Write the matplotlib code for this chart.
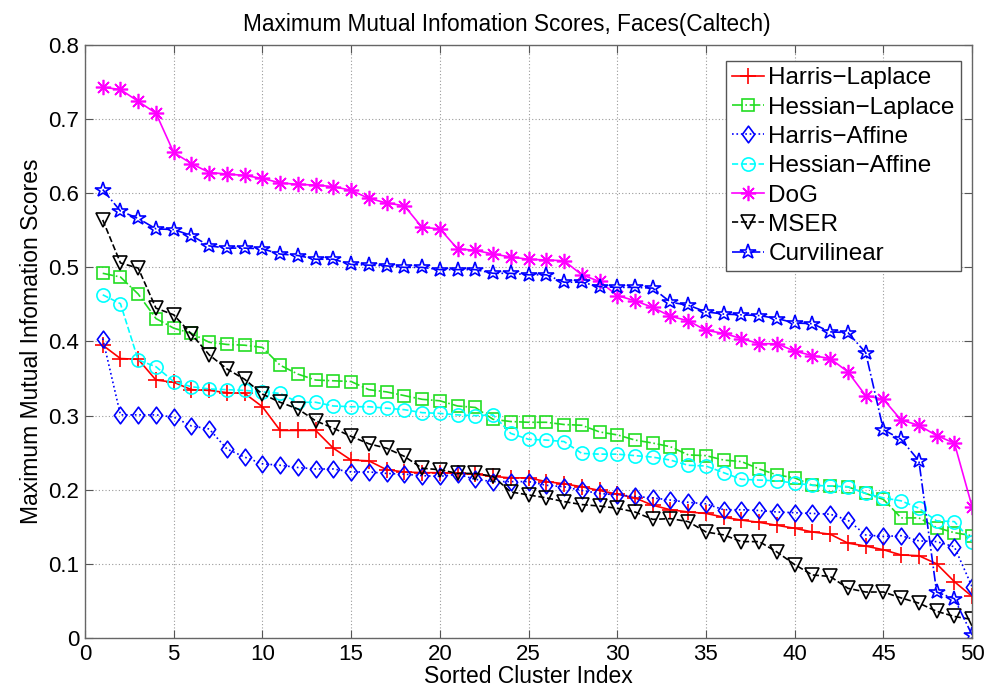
import numpy as np
import matplotlib
matplotlib.use("Agg")
import matplotlib.pyplot as plt
from matplotlib.path import Path

plt.rcParams['font.family'] = ['Liberation Sans', 'DejaVu Sans']

cluster_index = list(range(1, 51))

harris_laplace = [0.395, 0.377, 0.376, 0.348, 0.345, 0.335, 0.334, 0.331, 0.330, 0.312,
                  0.280, 0.280, 0.280, 0.256, 0.240, 0.239, 0.227, 0.224, 0.223, 0.223,
                  0.222, 0.221, 0.218, 0.216, 0.216, 0.211, 0.208, 0.204, 0.199, 0.194,
                  0.189, 0.179, 0.173, 0.170, 0.168, 0.163, 0.159, 0.156, 0.152, 0.148,
                  0.143, 0.140, 0.128, 0.124, 0.119, 0.112, 0.111, 0.100, 0.076, 0.056]

hessian_laplace = [0.492, 0.487, 0.464, 0.431, 0.418, 0.411, 0.399, 0.396, 0.395, 0.392,
                   0.368, 0.356, 0.348, 0.347, 0.346, 0.335, 0.332, 0.327, 0.322, 0.320,
                   0.313, 0.311, 0.295, 0.292, 0.291, 0.291, 0.288, 0.287, 0.278, 0.274,
                   0.267, 0.263, 0.258, 0.247, 0.246, 0.240, 0.238, 0.228, 0.220, 0.216,
                   0.206, 0.205, 0.204, 0.195, 0.187, 0.162, 0.162, 0.149, 0.142, 0.138]

harris_affine = [0.404, 0.301, 0.301, 0.301, 0.298, 0.286, 0.282, 0.255, 0.244, 0.235,
                 0.233, 0.230, 0.228, 0.228, 0.224, 0.224, 0.222, 0.221, 0.219, 0.218,
                 0.221, 0.214, 0.211, 0.211, 0.211, 0.206, 0.204, 0.199, 0.195, 0.193,
                 0.191, 0.189, 0.186, 0.183, 0.181, 0.173, 0.173, 0.172, 0.170, 0.169,
                 0.168, 0.167, 0.159, 0.139, 0.137, 0.138, 0.131, 0.130, 0.123, 0.069]

hessian_affine = [0.463, 0.451, 0.375, 0.366, 0.346, 0.339, 0.336, 0.335, 0.334, 0.332,
                  0.330, 0.318, 0.318, 0.313, 0.312, 0.312, 0.310, 0.308, 0.304, 0.303,
                  0.301, 0.300, 0.301, 0.276, 0.268, 0.267, 0.265, 0.249, 0.248, 0.248,
                  0.246, 0.244, 0.240, 0.233, 0.232, 0.223, 0.214, 0.213, 0.212, 0.209,
                  0.206, 0.205, 0.204, 0.195, 0.189, 0.185, 0.175, 0.158, 0.157, 0.130]

dog = [0.743, 0.740, 0.724, 0.708, 0.655, 0.640, 0.628, 0.626, 0.624, 0.620,
       0.614, 0.612, 0.611, 0.609, 0.604, 0.593, 0.587, 0.583, 0.554, 0.552,
       0.525, 0.523, 0.518, 0.514, 0.511, 0.510, 0.509, 0.490, 0.481, 0.462,
       0.455, 0.446, 0.434, 0.428, 0.415, 0.411, 0.404, 0.397, 0.397, 0.387,
       0.381, 0.377, 0.359, 0.327, 0.322, 0.294, 0.287, 0.273, 0.263, 0.177]

mser = [0.564, 0.506, 0.499, 0.445, 0.436, 0.410, 0.382, 0.363, 0.349, 0.329,
        0.318, 0.309, 0.293, 0.283, 0.272, 0.262, 0.256, 0.245, 0.229, 0.227,
        0.222, 0.222, 0.218, 0.197, 0.193, 0.189, 0.184, 0.180, 0.178, 0.175,
        0.170, 0.160, 0.161, 0.157, 0.143, 0.139, 0.130, 0.130, 0.116, 0.099,
        0.085, 0.083, 0.067, 0.062, 0.062, 0.054, 0.047, 0.036, 0.029, 0.025]

curvilinear = [0.605, 0.576, 0.566, 0.552, 0.551, 0.543, 0.529, 0.526, 0.526, 0.525,
               0.518, 0.516, 0.511, 0.511, 0.504, 0.503, 0.502, 0.500, 0.500, 0.497,
               0.497, 0.497, 0.492, 0.492, 0.490, 0.490, 0.480, 0.480, 0.474, 0.473,
               0.473, 0.472, 0.453, 0.449, 0.440, 0.437, 0.436, 0.435, 0.431, 0.425,
               0.424, 0.413, 0.412, 0.385, 0.281, 0.268, 0.239, 0.062, 0.053, 0.004]

# slightly tall diamond outline
diamond = Path([(0, 1), (0.74, 0), (0, -1), (-0.74, 0), (0, 1)],
               [Path.MOVETO, Path.LINETO, Path.LINETO, Path.LINETO, Path.CLOSEPOLY])
asterisk = (8, 2, 0)

series = [
    ("Harris\u2212Laplace", harris_laplace, "#ff0000", "-", "+", 11),
    ("Hessian\u2212Laplace", hessian_laplace, "#22dd22", "-.", "s", 8.5),
    ("Harris\u2212Affine", harris_affine, "#0000ff", ":", diamond, 12),
    ("Hessian\u2212Affine", hessian_affine, "#00ffff", "--", "o", 9.5),
    ("DoG", dog, "#ff00ff", "-", asterisk, 11),
    ("MSER", mser, "#000000", "--", "v", 10),
    ("Curvilinear", curvilinear, "#0000ff", "-.", "*", 11.5),
]

fig = plt.figure(figsize=(9.95, 6.98), dpi=100)
ax = fig.add_axes([0.0854, 0.086, 0.8916, 0.8495])

for label, vals, color, ls, mk, ms in series:
    ax.plot(cluster_index, vals, color=color, linestyle=ls, linewidth=1.2,
            marker=mk, markersize=ms, markerfacecolor='none',
            markeredgecolor=color, markeredgewidth=1.2, label=label)

ax.set_xlim(0, 50)
ax.set_ylim(0, 0.8)
ax.set_xticks(np.arange(0, 51, 5))
ax.set_yticks(np.arange(0, 0.81, 0.1))
ax.set_yticklabels(["0", "0.1", "0.2", "0.3", "0.4", "0.5", "0.6", "0.7", "0.8"])
ax.grid(True, linestyle=(0, (1, 2)), color="#9a9a9a", linewidth=0.8)
ax.tick_params(direction="in", length=6, labelsize=16, top=True, right=True,
               color="#555555", pad=4)
for side in ax.spines.values():
    side.set_color("#666666")
    side.set_linewidth(1.0)

ax.set_title("Maximum Mutual Infomation Scores, Faces(Caltech)", fontsize=16.3,
             pad=10, x=0.476)
ax.set_xlabel("Sorted Cluster Index", fontsize=16.5, labelpad=0)
ax.set_ylabel("Maximum Mutual Infomation Scores", fontsize=16.5, labelpad=4)

leg = ax.legend(loc="upper right", bbox_to_anchor=(0.9955, 0.985), fontsize=17.5,
                fancybox=False, edgecolor="#555555", framealpha=1,
                handlelength=1.3, handletextpad=0.2, labelspacing=0.3,
                borderpad=0.25, borderaxespad=0.3)
leg.get_frame().set_linewidth(1.0)

fig.savefig("out.png", dpi=100)
